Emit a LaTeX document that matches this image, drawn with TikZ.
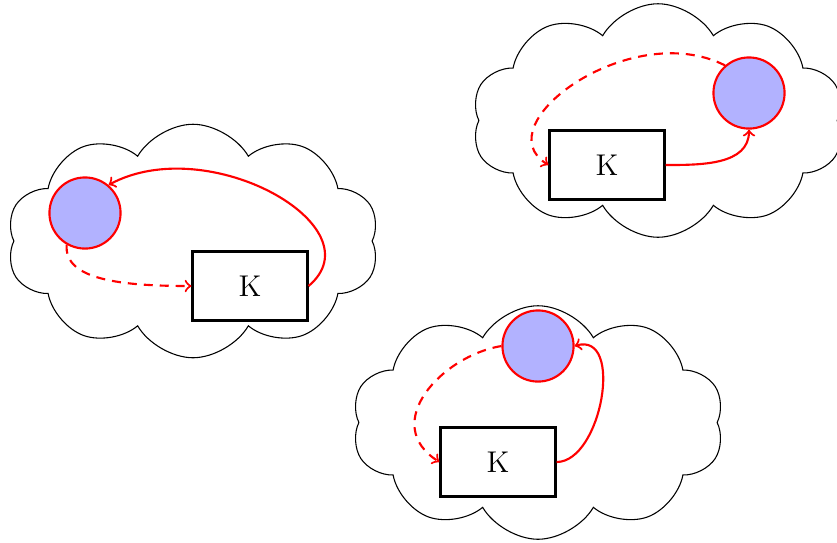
\documentclass[tikz,border=0pt]{standalone}
\usetikzlibrary{shapes.symbols}
\begin{document}
\begin{tikzpicture}[x=0.4pt,y=-0.4pt,
  puff/.style={cloud, cloud puffs=10, cloud puff arc=120, draw=black,
    line width=0.43pt, minimum width=149pt, minimum height=93.4pt, inner sep=0pt},
  kbox/.style={draw=black, line width=0.85pt, minimum width=46pt,
    minimum height=27.6pt, inner sep=0pt, font=\large},
  ball/.style={circle, draw=red, fill=blue!30, line width=0.85pt,
    minimum size=1cm, inner sep=0pt},
  link/.style={->, red, line width=0.85pt},
  back/.style={link, dash pattern=on 3.6pt off 2.8pt}]
\useasboundingbox (0,0) rectangle (837,542);

% clouds
\node[puff] (w1) at (193,241) {};
\node[puff] (w2) at (658,120.5) {};
\node[puff] (w3) at (538,422.5) {};

% left cloud
\node[kbox] (k1) at (250,286) {K};
\node[ball] (b1) at (85,213) {};
\draw[link] (k1.east) .. controls +(70,-59) and +(100,-54) .. (b1.50);
\draw[back] (b1.240) .. controls +(-3,35) and +(-70,0) .. (k1.west);

% upper right cloud
\node[kbox] (k2) at (607,165) {K};
\node[ball] (b2) at (749,93) {};
\draw[link] (k2.east) to[out=0,in=-90] (b2.south);
\draw[back] (b2.131) .. controls +(-95,-48) and +(-65,-40) .. (k2.west);

% lower cloud
\node[kbox] (k3) at (498,462) {K};
\node[ball] (b3) at (538,346) {};
\draw[link] (k3.east) .. controls +(45,0) and +(50,-15) .. (b3.east);
\draw[back] (b3.west) .. controls +(-60,10) and +(-60,-38) .. (k3.west);
\end{tikzpicture}
\end{document}
